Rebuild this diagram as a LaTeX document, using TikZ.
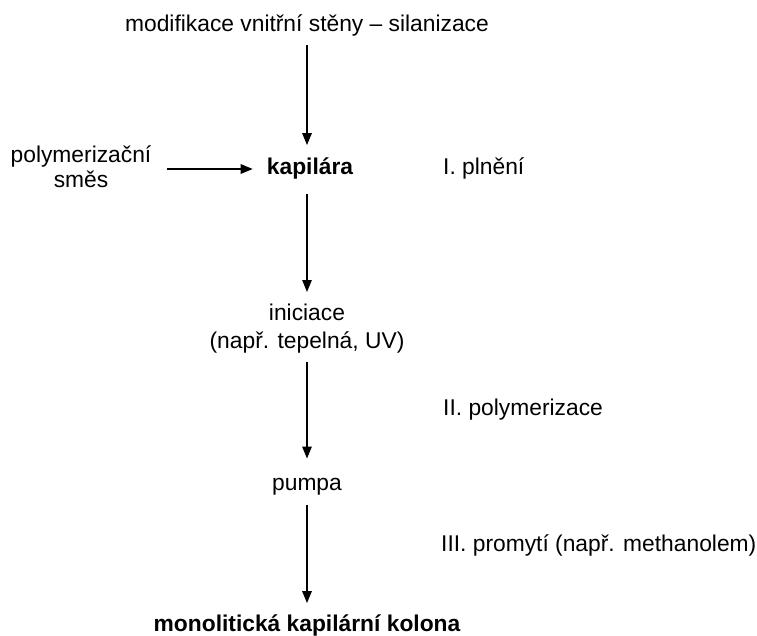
\documentclass[tikz,border=0pt]{standalone}
\usepackage{fontspec}
\setmainfont{Liberation Sans}
\usetikzlibrary{arrows.meta}
\tikzset{
  lbl/.style={inner sep=0pt, font=\fontsize{22.8}{28}\selectfont, anchor=base},
  bold/.style={lbl, font=\fontsize{22.8}{28}\selectfont\bfseries},
  flow/.style={line width=1.4pt, -{Triangle[length=12pt,width=9.5pt]}}
}
\begin{document}
\begin{tikzpicture}[x=1pt,y=-1pt]
\useasboundingbox (0,0) rectangle (757,636);
\node[lbl] (top) at (307,32) {modifikace vnitřní stěny – silanizace};
\node[bold] (kap) at (310,175) {kapilára};
\node[lbl, align=center, anchor=north, font=\fontsize{22.8}{25}\selectfont] (pol) at (81,146) {polymerizační\\směs};
\node[lbl, anchor=base west] (s1) at (443,175) {I. plnění};
\node[lbl, align=center, anchor=north] (ini) at (307,304) {iniciace\\(např. tepelná, UV)};
\node[lbl, anchor=base west] (s2) at (443,415) {II. polymerizace};
\node[lbl] (pump) at (307,490) {pumpa};
\node[lbl, anchor=base west] (s3) at (441,551) {III. promytí (např. methanolem)};
\node[bold] (mono) at (307,631) {monolitická kapilární kolona};

\draw[flow, shorten <=8pt, shorten >=13pt] (top.south -| ini.center) -- (kap.north -| ini.center);
\draw[flow, shorten <=15pt, shorten >=14pt] (pol.east |- kap.center) -- (kap.west);
\draw[flow, shorten <=14pt, shorten >=12pt] (kap.south -| ini.center) -- (ini.north);
\draw[flow, shorten <=8pt, shorten >=19pt] (ini.south) -- (pump.north);
\draw[flow, shorten <=10pt, shorten >=11pt] (pump.south) -- (mono.north);
\end{tikzpicture}
\end{document}
